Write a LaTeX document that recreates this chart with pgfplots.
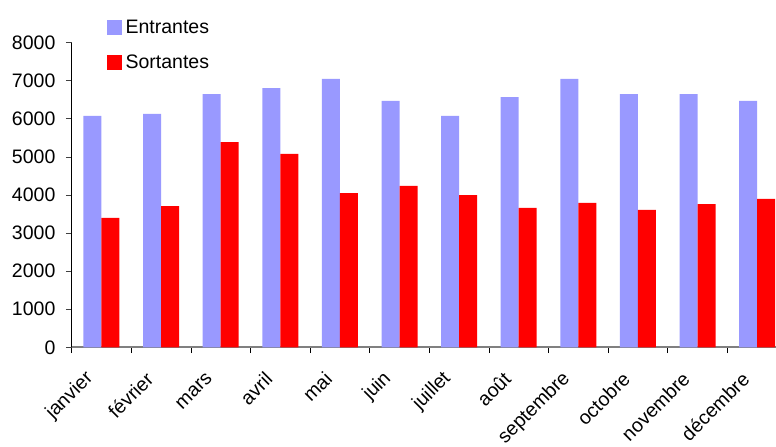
\documentclass[border=0pt]{standalone}
\usepackage{pgfplots}
\pgfplotsset{compat=1.18}
\usepackage{fontspec}
\setmainfont{Liberation Sans}
\definecolor{entr}{RGB}{153,153,255}
\definecolor{sort}{RGB}{255,0,0}
\begin{document}
\begin{tikzpicture}[font=\fontsize{19.5bp}{23bp}\selectfont]
\begin{axis}[
  scale only axis, width=704.3bp, height=304.6bp,
  xmin=-0.5, xmax=11.317, ymin=0, ymax=8000,
  ybar=0pt, bar width=18bp,
  axis x line*=bottom, axis y line*=left,
  x axis line style={-, draw=gray, line width=1.7bp},
  y axis line style={-, draw=black, line width=0.8bp},
  tick align=outside, major tick length=5.8bp,
  ytick={0,1000,...,8000},
  scaled y ticks=false,
  yticklabel style={/pgf/number format/1000 sep={}, /pgf/number format/assume math mode=true, xshift=-7bp},
  y tick style={draw=darkgray, line width=0.8bp},
  xtick={-0.5,0.5,...,10.5},
  xticklabels={},
  x tick style={draw=black, line width=0.8bp},
  extra x ticks={-0.15,0.85,1.85,2.85,3.85,4.85,5.85,6.85,7.85,8.85,9.85,10.85},
  extra x tick labels={janvier,février,mars,avril,mai,juin,juillet,août,septembre,octobre,novembre,décembre},
  extra x tick style={major tick length=0pt, tick style={draw=none}, xticklabel shift=26bp,
    xticklabel style={rotate=45, anchor=east}},
  legend style={draw=none, fill=none, inner sep=0pt, at={(axis description cs:0.05,1.088)}, anchor=north west, row sep=13bp, cells={anchor=west}, nodes={inner sep=3.5bp}},
  legend image code/.code={\path[#1] (0bp,-7.5bp) rectangle (15bp,7.5bp);},
]
\addplot[fill=entr, draw=none] coordinates {(0,6080) (1,6130) (2,6650) (3,6810) (4,7050) (5,6470) (6,6080) (7,6570) (8,7050) (9,6650) (10,6650) (11,6470)};
\addplot[fill=sort, draw=none] coordinates {(0,3400) (1,3710) (2,5390) (3,5080) (4,4050) (5,4240) (6,4000) (7,3660) (8,3790) (9,3610) (10,3760) (11,3900)};
\legend{Entrantes,Sortantes}
\end{axis}
\pgfresetboundingbox
\useasboundingbox (-71.7bp,-99.7bp) rectangle (704.3bp,347.3bp);
\end{tikzpicture}
\end{document}
